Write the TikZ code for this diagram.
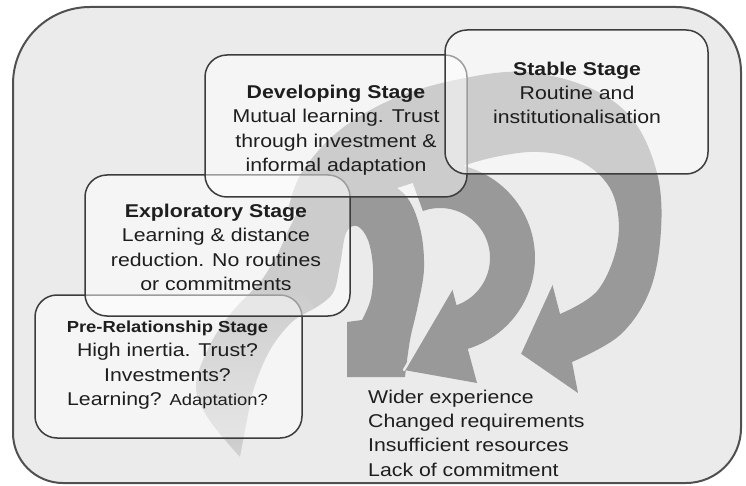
\documentclass[tikz,border=0pt]{standalone}
\usepackage{fontspec}
\setmainfont{Liberation Sans}[FakeStretch=1.15]
\definecolor{framefill}{HTML}{EBEBEB}
\definecolor{frameline}{HTML}{505050}
\definecolor{boxline}{HTML}{3C3C3C}
\definecolor{arrowgray}{HTML}{999999}
\definecolor{ink}{HTML}{1E1E1E}
\begin{document}
\begin{tikzpicture}[x=1pt,y=-1pt,
  stagebox/.style={draw=boxline, line width=1.5pt, fill=white, fill opacity=0.5,
    rounded corners=22pt, inner sep=0pt},
  stagetext/.style={anchor=north, align=center, inner sep=0pt, text=ink,
    font=\fontsize{18.5}{24.2}\selectfont},
  looparrow/.style={fill=arrowgray},
  gapline/.style={draw=framefill, line width=2.5pt, line cap=round},
]
\useasboundingbox (0,0) rectangle (746,486);

% outer frame, each corner with its own radius
\draw[fill=framefill, draw=frameline, line width=2pt]
  (13,250) {[rounded corners=77pt] -- (13,7) -- (400,7)}
  {[rounded corners=65pt] -- (741,7) -- (741,250)}
  {[rounded corners=55pt] -- (741,483) -- (400,483)}
  {[rounded corners=50pt] -- (13,483) -- cycle};

% third loop: wide sweep over the top, head at the lower right
\fill[looparrow]
  plot[smooth, tension=0.6] coordinates {(288,210) (302,172) (340,130) (395,98) (460,79)
    (525,72) (590,88) (633,120) (657,173) (661,230) (650,290) (620,335) (572,362)}
  -- (578,393) -- (520,353) -- (552,283) --
  plot[smooth, tension=0.6] coordinates {(560,314) (598,290) (618,240) (612,192) (582,162)
    (540,152) (495,157) (450,170) (400,187) (345,202) (288,210)}
  -- cycle;

% second loop: ring with its head at the bottom
\fill[looparrow]
  plot[domain=-110:73, samples=60] ({440+95*cos(\x)},{258+95*sin(\x)})
  -- (477,383) -- (404,370) -- (452,288) -- (456.5,305.2) --
  plot[domain=71:-110, samples=60] ({440+50*cos(\x)},{258+50*sin(\x)})
  -- cycle;

% first loop: rises from the lower left and turns back down
\fill[looparrow]
  plot[smooth, tension=0.6] coordinates {(232,312) (258,285) (277,255) (291,225) (308,196)
    (340,179) (375,178) (405,195) (420,228) (424,268) (418,305) (410,340) (405,377)}
  -- (347,377) -- (347,322) --
  plot[smooth, tension=0.6] coordinates {(362,320) (371,298) (373,268) (368,240) (357,226)
    (346,233) (340,265) (333,293) (315,308)}
  -- (300,316) -- cycle;

% fading tail of the first loop
\shade[top color=arrowgray, bottom color=arrowgray!30!framefill]
  plot[smooth, tension=0.6] coordinates {(258,285) (232,312) (210,345) (196,385) (208,418) (240,457)}
  -- plot[smooth, tension=0.6] coordinates {(240,457) (246,425) (254,388) (270,350) (292,322) (315,308)}
  -- (300,288) -- cycle;

% light seams along the heads
\draw[gapline] (452,288) -- (404,370);
\draw[gapline] (552,283) -- (520,353);

% stage boxes
\node[stagebox, minimum width=267pt, minimum height=143pt] (prebox) at (168.5,366.5) {};
\node[stagebox, minimum width=265pt, minimum height=141pt] (explbox) at (217.5,245.5) {};
\node[stagebox, minimum width=262pt, minimum height=142pt] (devbox) at (336,126) {};
\node[stagebox, minimum width=263pt, minimum height=144pt] (stabbox) at (576.5,102) {};

% stage texts
\node[stagetext] (stabtext) at (577,61.5)
  {\textbf{Stable Stage}\\Routine and\\institutionalisation};
\node[stagetext] (devtext) at (336,85)
  {\textbf{Developing Stage}\\Mutual learning. Trust\\through investment \&\\informal adaptation};
\node[stagetext] (expltext) at (216,204)
  {\textbf{Exploratory Stage}\\Learning \& distance\\reduction. No routines\\or commitments};
\node[stagetext] (pretext) at (167.5,321)
  {{\fontsize{16}{24.2}\selectfont\textbf{Pre-Relationship Stage}}\\High inertia. Trust?\\Investments?\\Learning? {\fontsize{16}{24.2}\selectfont Adaptation?}};

% factors listed under the loops
\node[anchor=north west, align=left, inner sep=0pt, text=ink,
  font=\fontsize{18.5}{24.4}\selectfont] (factors) at (368,389.5)
  {Wider experience\\Changed requirements\\Insufficient resources\\Lack of commitment};
\end{tikzpicture}
\end{document}
